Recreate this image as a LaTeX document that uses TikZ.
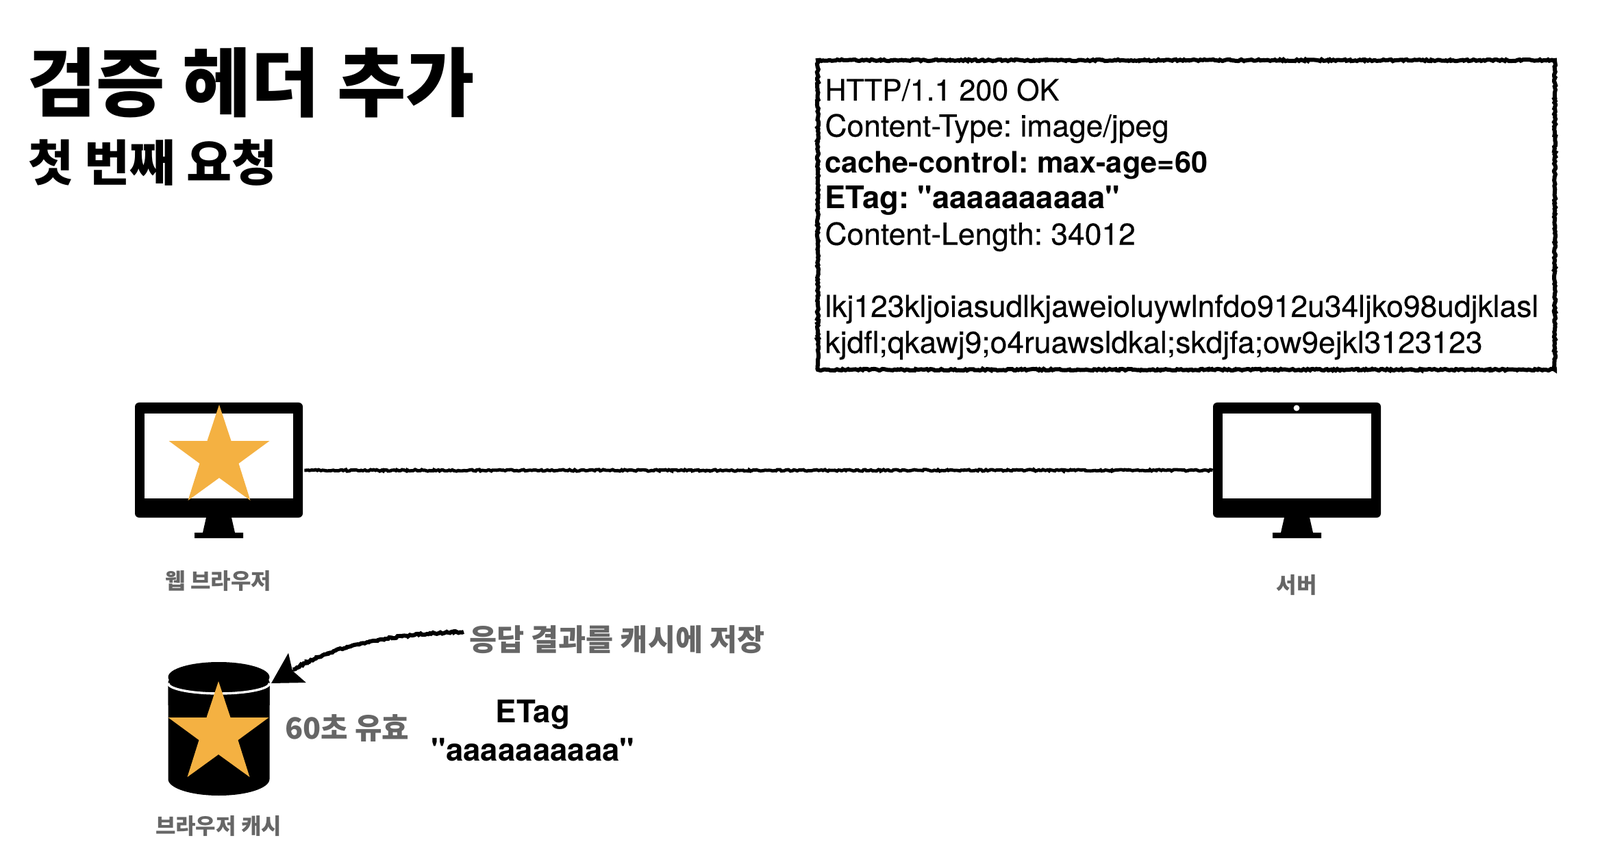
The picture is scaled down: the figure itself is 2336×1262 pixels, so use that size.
\documentclass[tikz,border=0pt]{standalone}
\usepackage{fontspec}
\usetikzlibrary{decorations.pathmorphing,arrows.meta}
\setmainfont{TeX Gyre Heros}[Ligatures=TeXOff,UprightFeatures={FakeBold=0.25}]
\newfontfamily\kr{Noto Sans CJK KR}
\definecolor{starc}{HTML}{F4B142}
\definecolor{labelc}{HTML}{666666}
\tikzset{
  x=0.5pt,y=-0.5pt,
  rough/.style={decorate,decoration={random steps,segment length=1.3pt,amplitude=0.6pt}},
  krtext/.style={inner sep=0pt,text=#1},
  krtext/.default=labelc,
  star shape/.style={fill=starc},
  pics/monitor/.style={code={
    \node[fill=black,rounded corners=3pt,minimum width=122.5pt,minimum height=84pt,inner sep=0pt] (body) at (0,0) {};
    \fill[white] (-108.5,-68) rectangle (108.5,56);
    \fill[black] (-18.5,84) -- (18.5,84) -- (23.5,106) -- (35.5,106) -- (35.5,114) -- (-35.5,114) -- (-35.5,106) -- (-23.5,106) -- cycle;
  }},
}
\newcommand{\starat}[2]{\fill[star shape,shift={(#1,#2)}] (0,0) -- (17.5,53) -- (73.5,53) -- (28.5,86) -- (45.5,140) -- (0,107) -- (-45.5,140) -- (-28.5,86) -- (-73.5,53) -- (-17.5,53) -- cycle;}
\newcommand{\linesize}[1]{\fontsize{#1}{26.35}\selectfont}
\begin{document}
\begin{tikzpicture}
\frenchspacing
\useasboundingbox (0,0) rectangle (2336,1262);
% titles
\node[anchor=west,krtext=black,font={\kr\bfseries\fontsize{54.6}{60}\selectfont}] (title) at (40,121) {검증 헤더 추가};
\node[anchor=west,krtext=black,font={\kr\bfseries\fontsize{35.9}{40}\selectfont}] (subtitle) at (41,238) {첫 번째 요청};
% response box
\node[draw=black,line width=3pt,rough,minimum width=538pt,minimum height=226pt,inner sep=0pt] (resp) at (1732,314)
 {\begin{minipage}{527.5pt}\vspace*{6pt}\fontsize{22.2}{26.35}\selectfont\raggedright
 {\linesize{21.5}HTTP/1.1 200 OK}\\
 Content-Type: image/jpeg\\
 {\linesize{21.6}\textbf{cache-control: max-age=60}}\\
 {\linesize{22.7}\textbf{ETag: "aaaaaaaaaa"}}\\
 Content-Length: 34012\\
 \mbox{}\\
 lkj123kljoiasudlkjaweioluywlnfdo912u34ljko98udjklasl\\
 kjdfl;qkawj9;o4ruawsldkal;skdjfa;ow9ejkl3123123
 \end{minipage}};
% monitors
\pic (browser) at (319.5,672) {monitor};
\pic (server) at (1893.5,672) {monitor};
\fill[white] (1893,596) circle (2.2pt);
\starat{320}{591}
\draw[line width=2.4pt,rough] ([shift={(1pt,-7.5pt)}]browserbody.east) -- ([yshift=-7.5pt]serverbody.west);
% labels
\node[krtext,font={\kr\bfseries\fontsize{16}{20}\selectfont}] (lbrowser) at (319,849) {웹 브라우저};
\node[krtext,font={\kr\bfseries\fontsize{16}{20}\selectfont}] (lserver) at (1893,855) {서버};
% cache cylinder
\fill[black] (245.5,989) arc[start angle=180,end angle=360,x radius=74,y radius=22]
   arc[start angle=0,end angle=180,x radius=74,y radius=22] -- cycle;
\fill[black] (245.5,1000) arc[start angle=180,end angle=0,x radius=74,y radius=-14] -- (393.5,1138)
   arc[start angle=0,end angle=180,x radius=74,y radius=24] -- cycle;
\fill[black] (245.5,996) arc[start angle=180,end angle=360,x radius=74,y radius=17] -- (393.5,1030) -- (245.5,1030) -- cycle;
\draw[white,line width=1.7pt] (245.5,998) arc[start angle=180,end angle=360,x radius=74,y radius=-15];
\starat{319}{995}
\node[krtext,font={\kr\bfseries\fontsize{16}{20}\selectfont}] (lcache) at (319,1207) {브라우저 캐시};
\node[krtext,font={\kr\bfseries\fontsize{21.5}{26}\selectfont}] (valid) at (507,1064) {60초 유효};
\node[anchor=west,krtext,font={\kr\bfseries\fontsize{21.8}{26}\selectfont}] (store) at (685,934) {응답 결과를 캐시에 저장};
\node[align=center,inner sep=0pt,font={\bfseries\fontsize{22.8}{28}\selectfont}] (etag) at (778,1067) {ETag\\"aaaaaaaaaa"};
% arrow
\coordinate (cachetip) at (396,998);
\draw[line width=3pt,rough] ([xshift=-4pt,yshift=5.5pt]store.west) .. controls (570,926) and (490,942) .. (428,978);
\draw[line width=1pt,-{Stealth[length=22pt,width=25pt,inset=4pt]}] ([xshift=-4pt,yshift=5.5pt]store.west) .. controls (570,926) and (490,942) .. (cachetip);
\end{tikzpicture}
\end{document}
